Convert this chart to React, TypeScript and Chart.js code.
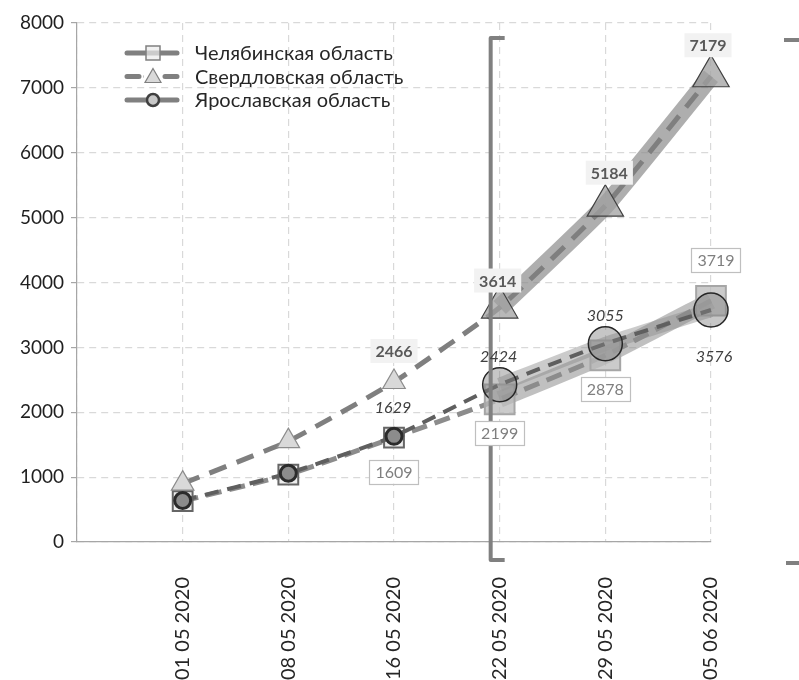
import React, { useEffect, useRef } from 'react';
import { Chart, registerables } from 'chart.js';

Chart.register(...registerables);

// ---- data ----
const dates = ['01 05 2020', '08 05 2020', '16 05 2020', '22 05 2020', '29 05 2020', '05 06 2020'];
const seriesNames = ['Челябинская область', 'Свердловская область', 'Ярославская область'];
const chelyabinsk = [630, 1040, 1609, 2199, 2878, 3719];
const sverdlovsk = [900, 1555, 2466, 3614, 5184, 7179];
const yaroslavl = [640, 1060, 1629, 2424, 3055, 3576];
const yMax = 8000;
const yStep = 1000;
const labelFrom = 2; // first index with a data label
const highlightFrom = 3; // first index of the highlighted period

const FONT = 'Lato, "Open Sans", sans-serif';
const W = 799;
const H = 720;

const pts = (arr: number[]) => arr.map((v, i) => ({ x: i, y: v }));
const bandPts = (arr: number[]) => arr.map((v, i) => ({ x: i, y: i >= highlightFrom ? v : null }));

const big = (c: any) => c.dataIndex >= highlightFrom;

// label styles (per series)
const labelStyles = [
  { ds: 0, font: `16px ${FONT}`, color: '#7f7f7f', bg: '#ffffff', border: '#bfbfbf', dy: [0, 0, 34, 34, 34, -41], dx: [0, 0, 0, 0, 0, 5], padX: 6, h: 24 },
  { ds: 1, font: `bold 16px ${FONT}`, color: '#595959', bg: '#f2f2f2', border: null, dy: [0, 0, -31, -27, -33, -31], dx: [0, 0, 0, -2, 4, -3], padX: 5, h: 24 },
  { ds: 2, font: `italic 16px ${FONT}`, color: '#404040', bg: null, border: null, dy: [0, 0, -29, -29, -29, 46], dx: [0, 0, -1, -1, 0, 3], padX: 0, h: 20 },
];

const labelPlugin = {
  id: 'valueLabels',
  afterDatasetsDraw(chart: any) {
    const ctx = chart.ctx;
    ctx.save();
    labelStyles.forEach((s) => {
      const meta = chart.getDatasetMeta(s.ds);
      const data = chart.data.datasets[s.ds].data;
      meta.data.forEach((el: any, i: number) => {
        if (i < labelFrom) return;
        const txt = String(data[i].y);
        ctx.font = s.font;
        const tw = ctx.measureText(txt).width;
        const cx = el.x + s.dx[i];
        const cy = el.y + s.dy[i];
        const bw = tw + s.padX * 2;
        if (s.bg) {
          ctx.fillStyle = s.bg;
          ctx.fillRect(cx - bw / 2, cy - s.h / 2, bw, s.h);
        }
        if (s.border) {
          ctx.strokeStyle = s.border;
          ctx.lineWidth = 1.2;
          ctx.strokeRect(Math.round(cx - bw / 2) + 0.5, Math.round(cy - s.h / 2) + 0.5, Math.round(bw), s.h);
        }
        ctx.fillStyle = s.color;
        ctx.textAlign = 'center';
        ctx.textBaseline = 'middle';
        ctx.fillText(txt, cx, cy + 1);
      });
    });
    ctx.restore();
  },
};

const bracketPlugin = {
  id: 'bracket',
  afterDatasetsDraw(chart: any) {
    const { ctx, chartArea, scales } = chart;
    const x = scales.x.getPixelForValue(highlightFrom) - 9;
    const top = chartArea.top + 15;
    const bottom = chartArea.bottom + 18;
    ctx.save();
    ctx.strokeStyle = '#808080';
    ctx.lineWidth = 4;
    ctx.lineJoin = 'round';
    ctx.beginPath();
    ctx.moveTo(x + 14, top);
    ctx.lineTo(x, top);
    ctx.lineTo(x, bottom);
    ctx.lineTo(x + 14, bottom);
    ctx.stroke();
    const rx = chart.width + 2;
    ctx.beginPath();
    ctx.moveTo(rx - 17, top + 2);
    ctx.lineTo(rx, top + 2);
    ctx.lineTo(rx, bottom + 3);
    ctx.lineTo(rx - 15, bottom + 3);
    ctx.stroke();
    ctx.restore();
  },
};

const legendPlugin = {
  id: 'customLegend',
  afterDraw(chart: any) {
    const { ctx, chartArea } = chart;
    const x0 = chartArea.left + 50;
    const y0 = chartArea.top + 30;
    const gap = 23.5;
    ctx.save();
    seriesNames.forEach((name, i) => {
      const y = y0 + i * gap;
      const mx = x0 + 26;
      ctx.strokeStyle = '#808080';
      ctx.lineWidth = 5;
      ctx.lineCap = 'round';
      if (i === 1) ctx.setLineDash([12, 7]);
      else ctx.setLineDash([]);
      ctx.beginPath();
      ctx.moveTo(x0, y);
      ctx.lineTo(x0 + 50, y);
      ctx.stroke();
      ctx.setLineDash([]);
      if (i === 0) {
        ctx.fillStyle = 'rgba(235,235,235,0.7)';
        ctx.fillRect(mx - 7, y - 7, 14, 14);
        ctx.strokeStyle = '#808080';
        ctx.lineWidth = 1.5;
        ctx.strokeRect(mx - 7, y - 7, 14, 14);
      } else if (i === 1) {
        ctx.fillStyle = '#ffffff';
        ctx.fillRect(mx - 9, y - 8, 18, 16);
        ctx.beginPath();
        ctx.moveTo(mx, y - 8);
        ctx.lineTo(mx + 8, y + 6);
        ctx.lineTo(mx - 8, y + 6);
        ctx.closePath();
        ctx.fillStyle = '#d9d9d9';
        ctx.fill();
        ctx.strokeStyle = '#808080';
        ctx.lineWidth = 1.2;
        ctx.stroke();
      } else {
        ctx.beginPath();
        ctx.arc(mx, y, 6, 0, Math.PI * 2);
        ctx.fillStyle = '#c8c8c8';
        ctx.fill();
        ctx.strokeStyle = '#404040';
        ctx.lineWidth = 2.5;
        ctx.stroke();
      }
      ctx.fillStyle = '#262626';
      ctx.font = `20px ${FONT}`;
      ctx.textAlign = 'left';
      ctx.textBaseline = 'middle';
      ctx.fillText(name, x0 + 68, y + 1);
    });
    ctx.restore();
  },
};

export default function App() {
  const ref = useRef<HTMLCanvasElement | null>(null);

  useEffect(() => {
    if (!ref.current) return;
    const chart = new Chart(ref.current, {
      type: 'line',
      data: {
        datasets: [
          {
            label: seriesNames[0],
            data: pts(chelyabinsk),
            borderColor: '#8c8c8c',
            borderWidth: 5,
            borderDash: [16, 8],
            pointStyle: 'rect',
            pointRadius: (c: any) => (big(c) ? 21 : 14),
            pointBackgroundColor: (c: any) => (big(c) ? 'rgba(185,185,185,0.75)' : 'rgba(225,225,225,0.6)'),
            pointBorderColor: (c: any) => (big(c) ? '#a6a6a6' : '#666666'),
            pointBorderWidth: 2,
            clip: false,
            order: 2,
          },
          {
            label: seriesNames[1],
            data: pts(sverdlovsk),
            borderColor: '#7f7f7f',
            borderWidth: 5,
            borderDash: [18, 11],
            pointStyle: 'triangle',
            pointRadius: (c: any) => (big(c) ? 21 : 13),
            pointBackgroundColor: (c: any) => (big(c) ? 'rgba(160,160,160,0.75)' : '#d9d9d9'),
            pointBorderColor: (c: any) => (big(c) ? '#404040' : '#8c8c8c'),
            pointBorderWidth: 1.2,
            clip: false,
            order: 1,
          },
          {
            label: seriesNames[2],
            data: pts(yaroslavl),
            borderColor: '#5f5f5f',
            borderWidth: 4,
            borderDash: [14, 9],
            pointStyle: 'circle',
            pointRadius: (c: any) => (big(c) ? 17 : 8),
            pointBackgroundColor: (c: any) => (big(c) ? 'rgba(128,128,128,0.45)' : '#8c8c8c'),
            pointBorderColor: (c: any) => (big(c) ? '#262626' : '#2b2b2b'),
            pointBorderWidth: (c: any) => (big(c) ? 1.5 : 3),
            clip: false,
            order: 0,
          },
          {
            label: 'band1',
            data: bandPts(chelyabinsk),
            borderColor: 'rgba(140,140,140,0.55)',
            borderWidth: 17,
            pointRadius: 0,
            clip: false,
            order: 6,
          },
          {
            label: 'band2',
            data: bandPts(sverdlovsk),
            borderColor: 'rgba(140,140,140,0.7)',
            borderWidth: 18,
            pointRadius: 0,
            clip: false,
            order: 6,
          },
          {
            label: 'band3',
            data: bandPts(yaroslavl),
            borderColor: 'rgba(140,140,140,0.45)',
            borderWidth: 14,
            pointRadius: 0,
            clip: false,
            order: 7,
          },
        ],
      },
      options: {
        responsive: false,
        animation: false,
        devicePixelRatio: 1,
        layout: { padding: { top: 20, right: 88, left: 0, bottom: 0 } },
        plugins: {
          legend: { display: false },
          tooltip: { enabled: false },
        },
        elements: { line: { tension: 0.15, borderCapStyle: 'butt' } },
        scales: {
          x: {
            type: 'linear',
            min: -1,
            max: dates.length - 1,
            afterFit: (axis: any) => {
              axis.height = H - 542;
            },
            border: { color: '#a6a6a6', width: 1.2, dash: [7, 5] },
            grid: { color: '#d9d9d9', drawTicks: false, lineWidth: 1.2 } as any,
            ticks: {
              stepSize: 1,
              autoSkip: false,
              minRotation: 90,
              maxRotation: 90,
              padding: 35,
              color: '#262626',
              font: { family: FONT, size: 20 },
              callback: (v: any) => (v >= 0 && v < dates.length ? dates[v] : ''),
            },
          },
          y: {
            min: 0,
            max: yMax,
            afterFit: (axis: any) => {
              axis.width = 77;
            },
            border: { color: '#a6a6a6', width: 1.2, dash: [7, 5] },
            grid: {
              color: '#d9d9d9',
              tickColor: '#a6a6a6',
              tickBorderDash: [],
              tickLength: 6,
              lineWidth: 1.2,
            } as any,
            ticks: {
              stepSize: yStep,
              padding: 7,
              color: '#1f1f1f',
              font: { family: FONT, size: 19 },
              callback: (v: any) => String(v),
            },
          },
        },
      } as any,
      plugins: [bracketPlugin, labelPlugin, legendPlugin],
    });
    return () => chart.destroy();
  }, []);

  return (
    <div style={{ position: 'fixed', left: 0, top: 0, width: W, height: 680, overflow: 'hidden', background: '#fff' }}>
      <canvas ref={ref} width={W} height={H} style={{ display: 'block' }} />
    </div>
  );
}
